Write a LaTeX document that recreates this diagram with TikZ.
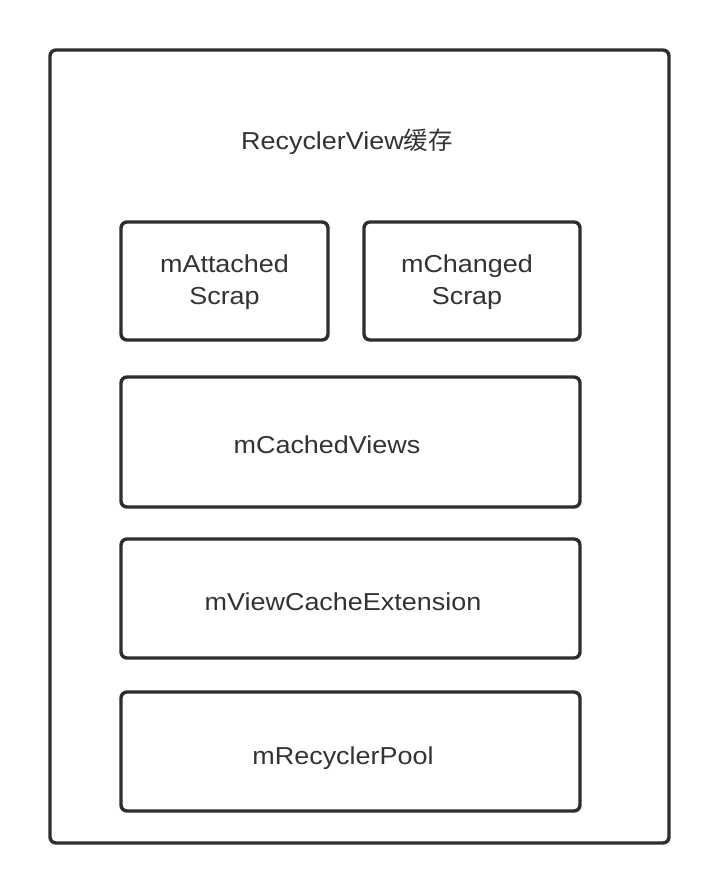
\documentclass[tikz,border=0pt]{standalone}
\usepackage{fontspec}
\setmainfont{Liberation Sans}[FakeStretch=1.1]
\newfontfamily\cjkfont{Noto Sans CJK SC}
\definecolor{linec}{HTML}{2E2E2E}
\definecolor{textc}{HTML}{333333}
\tikzset{
  boxstyle/.style={draw=linec, line width=3.4pt, rounded corners=6pt},
  lbl/.style={text=textc, font=\fontsize{24.5}{32}\selectfont, align=center, inner sep=0pt},
}
\begin{document}
\begin{tikzpicture}[x=1pt,y=-1pt]
\useasboundingbox (0,0) rectangle (720,894);
\fill[white] (0,0) rectangle (720,894);
\draw[boxstyle] (50,50) rectangle (669,843);
\node[lbl] (title) at (347,142) {RecyclerView{\cjkfont 缓存}};
\draw[boxstyle] (121,222) rectangle (328,340);
\coordinate (attached) at (224.5,282);
\node[lbl] (attachedt) at (attached) {mAttached\\Scrap};
\draw[boxstyle] (364,222) rectangle (580,340);
\coordinate (changed) at (467,282);
\node[lbl] (changedt) at (changed) {mChanged\\Scrap};
\draw[boxstyle] (121,377) rectangle (580,507);
\node[lbl] (cached) at (327,445) {mCachedViews};
\draw[boxstyle] (121,539) rectangle (580,658);
\node[lbl] (ext) at (343,602) {mViewCacheExtension};
\draw[boxstyle] (121,692) rectangle (580,811);
\node[lbl] (pool) at (343,758) {mRecyclerPool};
\end{tikzpicture}
\end{document}
